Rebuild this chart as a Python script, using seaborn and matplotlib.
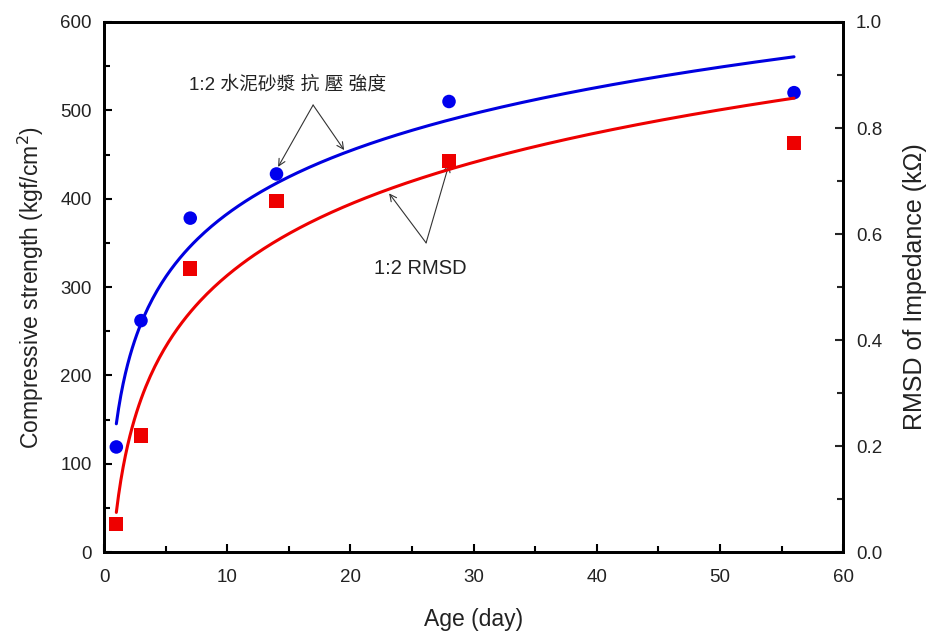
import numpy as np
import pandas as pd
import matplotlib
matplotlib.use("Agg")
import matplotlib.pyplot as plt
import seaborn as sns
from matplotlib.ticker import MultipleLocator

# ---- data ----
age_days = [1, 3, 7, 14, 28, 56]
strength = [119, 262, 378, 428, 510, 520]          # kgf/cm^2
rmsd = [0.053, 0.22, 0.535, 0.663, 0.738, 0.772]     # kOhm
x_ticks = [0, 10, 20, 30, 40, 50, 60]
label_strength = "1:2 水泥砂漿 抗 壓 強度"
label_rmsd = "1:2 RMSD"

sns.set_theme(style="white")
plt.rcParams['font.family'] = ['Liberation Sans', 'Noto Sans CJK TC', 'DejaVu Sans']

fig = plt.figure(figsize=(9.37, 6.39), dpi=100)
ax = fig.add_axes([0.111, 0.136, 0.789, 0.8296])
ax2 = ax.twinx()

df = pd.DataFrame({"age": age_days, "strength": strength, "rmsd": rmsd})

# logarithmic trend fits (least squares on ln(age))
xs = np.linspace(min(age_days), max(age_days), 300)
pb = np.polyfit(np.log(df["age"]), df["strength"], 1)
pr = np.polyfit(np.log(df["age"]), df["rmsd"], 1)
fit = pd.DataFrame({"age": xs,
                    "s": np.polyval(pb, np.log(xs)),
                    "r": np.polyval(pr, np.log(xs))})

sns.lineplot(data=fit, x="age", y="s", ax=ax, color="#0000e0", lw=2.2)
sns.scatterplot(data=df, x="age", y="strength", ax=ax, color="#0000ee",
                marker="o", s=95, edgecolor="none", zorder=5)
sns.lineplot(data=fit, x="age", y="r", ax=ax2, color="#ee0000", lw=2.2)
sns.scatterplot(data=df, x="age", y="rmsd", ax=ax2, color="#ee0000",
                marker="s", s=105, edgecolor="none", zorder=5)

ax.set_xlim(0, 60)
ax.set_ylim(0, 600)
ax2.set_ylim(0, 1.0)
ax.set_xticks(x_ticks)
ax.xaxis.set_minor_locator(MultipleLocator(5))
ax.yaxis.set_major_locator(MultipleLocator(100))
ax.yaxis.set_minor_locator(MultipleLocator(50))
ax2.yaxis.set_major_locator(MultipleLocator(0.2))
ax2.yaxis.set_minor_locator(MultipleLocator(0.1))
ax2.set_yticklabels([f"{v:.1f}" for v in ax2.get_yticks()])

for a in (ax, ax2):
    for sp in a.spines.values():
        sp.set_visible(True)
        sp.set_color("black")
        sp.set_linewidth(2)
ax.tick_params(axis="both", which="both", direction="in", labelsize=13.5,
               colors="black", labelcolor="#222222", top=False, right=False)
ax.tick_params(which="major", length=6, width=1.5)
ax.tick_params(which="minor", length=4, width=1.5)
ax.tick_params(axis="x", which="both", bottom=True, pad=12)
ax.tick_params(axis="y", which="both", left=True, pad=9)
ax2.tick_params(axis="y", which="both", direction="in", labelsize=13.5,
                labelcolor="#222222", right=True, pad=9)
ax2.tick_params(which="major", length=6, width=1.5)
ax2.tick_params(which="minor", length=4, width=1.5)

ax.set_xlabel("Age (day)", fontsize=16.5, color="#222222", labelpad=16)
ax.set_ylabel("Compressive strength (kgf/cm$^2$)", fontsize=16.5, color="#222222", labelpad=10)
ax2.set_ylabel("RMSD of Impedance (kΩ)", fontsize=18, color="#222222", labelpad=15)

arrow = dict(arrowstyle="->", color="#333333", lw=0.8, shrinkA=0, shrinkB=0)
ax.text(14.9, 529, label_strength, ha="center", va="center", fontsize=13.5, color="#222222")
ax.annotate("", xy=(14.13, 436), xytext=(16.97, 506), arrowprops=arrow)
ax.annotate("", xy=(19.49, 455), xytext=(16.97, 506), arrowprops=arrow)
ax.text(25.65, 321, label_rmsd, ha="center", va="center", fontsize=14.5, color="#222222")
ax.annotate("", xy=(23.14, 406), xytext=(26.14, 350), arrowprops=arrow)
ax.annotate("", xy=(28.0, 439), xytext=(26.14, 350), arrowprops=arrow)

fig.savefig("out.png", dpi=100)
